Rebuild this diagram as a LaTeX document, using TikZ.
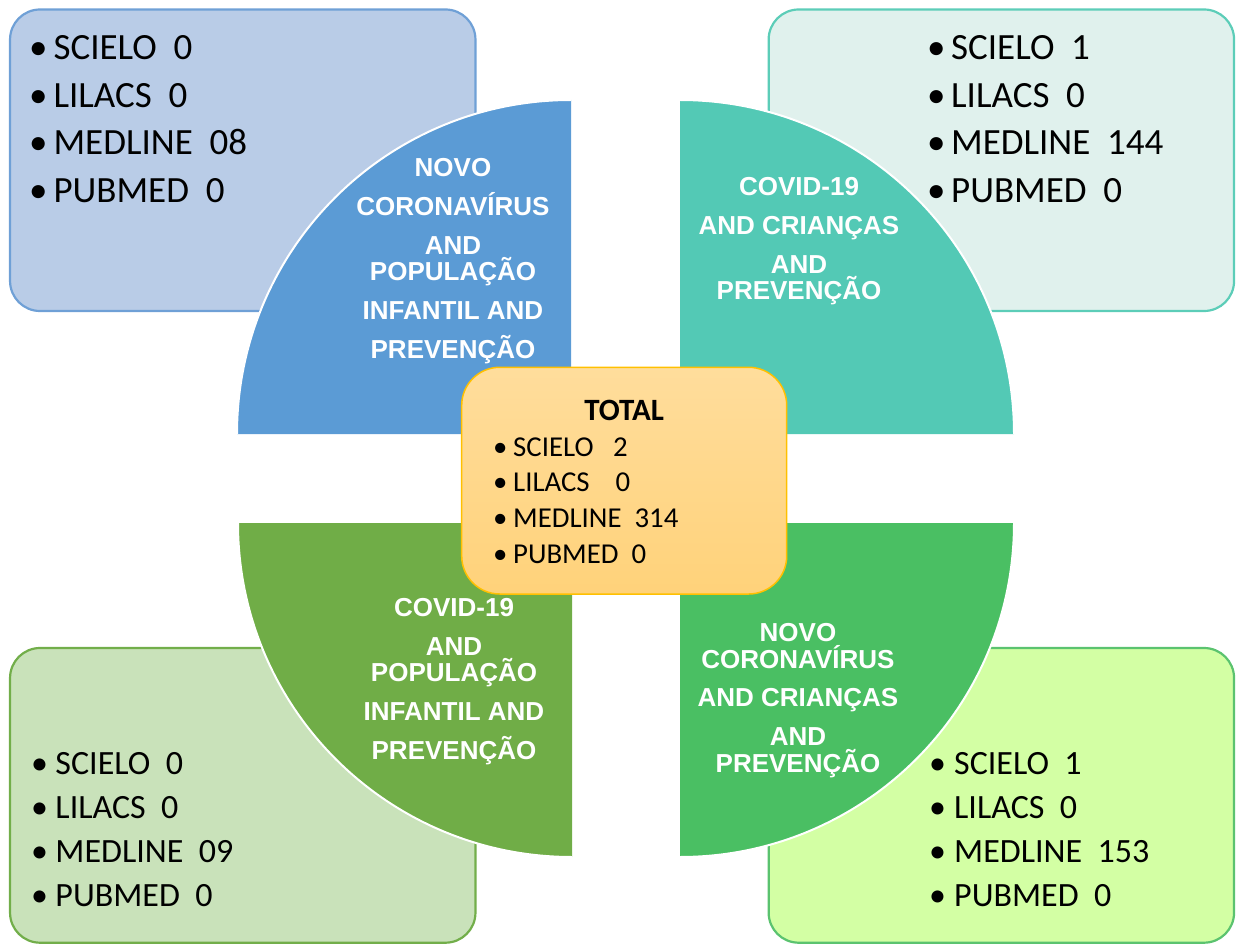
\documentclass[tikz,border=0pt]{standalone}
\usepackage{fontspec}
\usepackage{array}
\setmainfont{Carlito}
\newfontfamily\arialfont{Liberation Sans}
\definecolor{tlfill}{HTML}{B9CCE7}
\definecolor{tlline}{HTML}{6FA0D6}
\definecolor{trfill}{HTML}{E0F1ED}
\definecolor{trline}{HTML}{5CCDB8}
\definecolor{blfill}{HTML}{C9E2BA}
\definecolor{blline}{HTML}{72AE4A}
\definecolor{brfill}{HTML}{D3FFA4}
\definecolor{brline}{HTML}{5BC36F}
\definecolor{qblue}{HTML}{5B9BD5}
\definecolor{qteal}{HTML}{53C9B5}
\definecolor{qolive}{HTML}{70AD47}
\definecolor{qgreen}{HTML}{4ABF63}
\definecolor{totline}{HTML}{FFC000}
\definecolor{tottop}{HTML}{FFDD9C}
\definecolor{totbot}{HTML}{FFD27A}
\newcommand\bitem[2]{\makebox[#1][l]{•}#2}
\begin{document}
\begin{tikzpicture}[x=1pt,y=-1pt,
  cornerbox/.style={rounded corners=30pt, line width=2.2pt, inner sep=0, minimum width=465.4pt},
  qarc/.style={draw=white, line width=2pt},
  qtext/.style={text=white, inner sep=0, anchor=base, font=\arialfont\bfseries\fontsize{26}{39}\selectfont},
  ltext/.style={inner sep=0, anchor=base west}
]
\useasboundingbox (0,0) rectangle (1237,944);

% corner boxes
\node[cornerbox, draw=tlline, fill=tlfill, minimum height=301.5pt] (tlbox) at (242.75,160.25) {};
\node[cornerbox, draw=trline, fill=trfill, minimum height=301.5pt] (trbox) at (1001.35,160.25) {};
\node[cornerbox, draw=blline, fill=blfill, minimum height=294.7pt] (blbox) at (242.75,795.35) {};
\node[cornerbox, draw=brline, fill=brfill, minimum height=294.7pt] (brbox) at (1001.35,795.35) {};

% quarter circles
\fill[qblue] (571,434) -- (237,434) arc[start angle=180,end angle=270,radius=334] -- cycle;
\draw[qarc] (237,434) arc[start angle=180,end angle=270,radius=334];
\fill[qteal] (680,434) -- (680,100) arc[start angle=270,end angle=360,radius=334] -- cycle;
\draw[qarc] (680,100) arc[start angle=270,end angle=360,radius=334];
\fill[qgreen] (680,523) -- (1014,523) arc[start angle=0,end angle=90,radius=334] -- cycle;
\draw[qarc] (1014,523) arc[start angle=0,end angle=90,radius=334];
\fill[qolive] (572,523) -- (572,857) arc[start angle=90,end angle=180,radius=334] -- cycle;
\draw[qarc] (572,857) arc[start angle=90,end angle=180,radius=334];

% quarter texts
\node[qtext] (tlq) at (453,177) {\begin{tabular}[t]{@{}c@{}}NOVO\\CORONAVÍRUS\\AND\\[-13pt]POPULAÇÃO\\INFANTIL AND\\PREVENÇÃO\end{tabular}};
\node[qtext] (trq) at (799,196) {\begin{tabular}[t]{@{}c@{}}COVID-19\\AND CRIANÇAS\\AND\\[-13pt]PREVENÇÃO\end{tabular}};
\node[qtext] (blq) at (454,616) {\begin{tabular}[t]{@{}c@{}}COVID-19\\AND\\[-13pt]POPULAÇÃO\\INFANTIL AND\\PREVENÇÃO\end{tabular}};
\node[qtext] (brq) at (798,641) {\begin{tabular}[t]{@{}c@{}}NOVO\\[-12pt]CORONAVÍRUS\\[-1pt]AND CRIANÇAS\\AND\\[-12pt]PREVENÇÃO\end{tabular}};

% corner lists
\node[ltext, font=\fontsize{37}{47.4}\selectfont] (tllist) at (29,59.9) {\begin{tabular}[t]{@{}l@{}}\bitem{24.4pt}{SCIELO\ \ 0}\\\bitem{24.4pt}{LILACS\ \ 0}\\\bitem{24.4pt}{MEDLINE\ \ 08}\\\bitem{24.4pt}{PUBMED\ \ 0}\end{tabular}};
\node[ltext, font=\fontsize{37}{47.4}\selectfont] (trlist) at (927,59.9) {\begin{tabular}[t]{@{}l@{}}\bitem{24pt}{SCIELO\ \ 1}\\\bitem{24pt}{LILACS\ \ 0}\\\bitem{24pt}{MEDLINE\ \ 144}\\\bitem{24pt}{PUBMED\ \ 0}\end{tabular}};
\node[ltext, font=\fontsize{34}{44.2}\selectfont] (bllist) at (31,774.2) {\begin{tabular}[t]{@{}l@{}}\bitem{24.3pt}{SCIELO\ \ 0}\\\bitem{24.3pt}{LILACS\ \ 0}\\\bitem{24.3pt}{MEDLINE\ \ 09}\\\bitem{24.3pt}{PUBMED\ \ 0}\end{tabular}};
\node[ltext, font=\fontsize{34}{44.2}\selectfont] (brlist) at (929,774.2) {\begin{tabular}[t]{@{}l@{}}\bitem{25pt}{SCIELO\ \ 1}\\\bitem{25pt}{LILACS\ \ 0}\\\bitem{25pt}{MEDLINE\ \ 153}\\\bitem{25pt}{PUBMED\ \ 0}\end{tabular}};

% total box
\node[draw=totline, line width=1.5pt, rounded corners=38pt, top color=tottop, bottom color=totbot, inner sep=0, minimum width=325pt, minimum height=226.7pt] (total) at (624.2,480.65) {};
\node[inner sep=0, anchor=base, font=\bfseries\fontsize{31}{37}\selectfont] (totaltitle) at (624.2,420) {TOTAL};
\node[ltext, font=\fontsize{28.8}{35.7}\selectfont] (totallist) at (493,456) {\begin{tabular}[t]{@{}l@{}}\bitem{20pt}{SCIELO\ \ \ 2}\\\bitem{20pt}{LILACS\ \ \ \ 0}\\\bitem{20pt}{MEDLINE\ \ 314}\\\bitem{20pt}{PUBMED\ \ 0}\end{tabular}};
\end{tikzpicture}
\end{document}
